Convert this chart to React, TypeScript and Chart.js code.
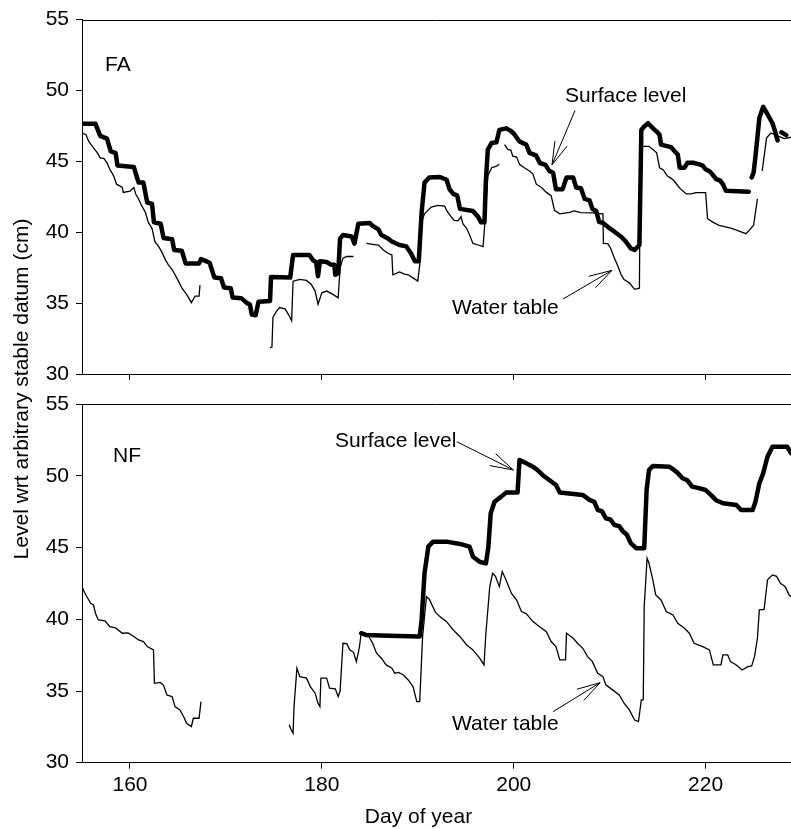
import { useEffect, useRef } from 'react';
import { Chart, registerables } from 'chart.js';

Chart.register(...registerables);

const FONT = "'Liberation Sans', Arial, Helvetica, sans-serif";

// Shared axes
const xTicks = [160, 180, 200, 220];
const yTicks = [30, 35, 40, 45, 50, 55];
const dayRange = [155, 228.9];
const levelRange = [30, 55];

// FA panel – surface level (thick)
const faSurfaceDay = [155.0, 156.4, 156.9, 157.6, 158.0, 158.5, 158.7, 160.4, 160.9, 161.4, 161.8, 162.3, 162.5, 163.2, 163.5, 164.4, 164.6, 165.4, 165.8, 167.2, 167.4, 167.8, 168.3, 168.8, 169.5, 169.8, 170.5, 170.7, 171.6, 172.2, 172.5, 172.7, 173.1, 173.4, 174.6, 174.7, 176.7, 177.0, 178.7, 179.1, 179.4, 179.6, 179.8, 180.5, 181.0, 181.3, 181.4, 181.7, 181.9, 182.2, 183.1, 183.4, 183.8, 185.0, 185.3, 185.9, 186.2, 186.8, 187.3, 188.1, 188.8, 189.3, 189.7, 190.1, 190.4, 190.7, 191.2, 192.3, 193.0, 193.3, 193.7, 194.1, 194.4, 195.75, 196.3, 196.6, 196.95, 197.1, 197.3, 197.7, 198.2, 198.5, 199.2, 199.7, 200.1, 200.6, 201.3, 201.65, 202.35, 202.7, 203.3, 203.7, 204.1, 204.4, 205.1, 205.5, 206.2, 206.5, 207.0, 207.4, 207.9, 208.2, 208.6, 208.9, 209.3, 209.8, 210.5, 211.2, 211.7, 212.2, 212.6, 213.1, 213.3, 213.6, 214.0, 214.5, 214.9, 215.2, 215.35, 216.4, 216.8, 217.1, 217.3, 217.8, 218.1, 218.7, 219.35, 219.7, 220.0, 220.4, 220.7, 221.1, 221.5, 221.8, 222.1, 224.5, 224.65, 224.8, 225.0, 225.2, 225.6, 226.0, 226.4, 226.97, 227.25, 227.5, 227.7, 227.9, 228.4];
const faSurfaceLevel = [47.65, 47.65, 46.8, 46.6, 45.7, 45.6, 44.7, 44.6, 43.5, 43.5, 42.1, 42.0, 40.7, 40.6, 39.6, 39.5, 38.75, 38.7, 37.8, 37.8, 38.1, 38.0, 37.85, 36.8, 36.75, 36.1, 36.05, 35.4, 35.35, 35.0, 34.9, 34.2, 34.15, 35.1, 35.15, 36.85, 36.8, 38.4, 38.4, 38.0, 37.9, 36.9, 37.95, 37.9, 37.7, 37.7, 37.0, 37.1, 39.55, 39.8, 39.7, 39.2, 40.6, 40.65, 40.45, 40.2, 39.8, 39.6, 39.35, 39.1, 39.0, 38.5, 37.95, 37.95, 41.4, 43.5, 43.86, 43.9, 43.7, 43.05, 42.7, 42.6, 41.65, 41.5, 41.07, 40.7, 40.7, 43.7, 45.83, 46.3, 46.35, 47.22, 47.33, 47.15, 46.88, 46.4, 46.18, 45.6, 45.4, 44.9, 44.75, 44.33, 44.2, 43.04, 43.04, 43.86, 43.86, 43.16, 43.1, 42.35, 42.25, 41.65, 41.5, 40.73, 40.65, 40.38, 40.03, 39.68, 39.33, 38.86, 38.75, 39.1, 47.22, 47.46, 47.69, 47.34, 47.1, 46.87, 46.18, 46.0, 45.7, 45.48, 44.55, 44.55, 44.9, 44.9, 44.79, 44.7, 44.44, 44.3, 44.09, 43.74, 43.65, 43.39, 42.93, 42.86, null, 43.86, 44.2, 45.37, 48.04, 48.85, 48.38, 47.69, 47.1, 46.48, null, 47.05, 46.85];

// FA panel – water table (thin)
const faWaterDay = [155.0, 155.4, 155.7, 156.2, 156.6, 156.9, 157.3, 157.6, 157.9, 158.3, 158.6, 159.2, 159.3, 160.0, 160.4, 160.6, 160.9, 161.2, 161.6, 161.9, 162.3, 162.6, 163.0, 163.3, 163.7, 164.0, 164.4, 164.7, 165.05, 165.4, 165.9, 166.4, 166.8, 167.2, 167.3, 170.0, 174.6, 174.8, 174.9, 175.3, 175.6, 176.15, 176.5, 176.85, 177.0, 177.7, 178.4, 178.9, 179.3, 179.6, 180.0, 180.5, 181.2, 181.7, 181.9, 182.2, 182.6, 183.3, 184.0, 184.65, 185.3, 185.9, 186.4, 186.9, 187.3, 187.4, 188.1, 188.6, 189.0, 189.5, 190.0, 190.2, 190.4, 190.7, 191.4, 192.1, 192.8, 193.0, 193.5, 193.8, 194.2, 194.5, 194.7, 195.1, 195.4, 195.75, 196.3, 196.8, 197.0, 197.3, 197.7, 198.2, 198.5, 198.8, 199.05, 199.4, 199.7, 199.9, 200.3, 200.6, 201.1, 201.65, 202.0, 202.35, 202.9, 203.4, 203.9, 204.25, 204.8, 205.8, 206.3, 207.0, 208.2, 209.3, 209.35, 209.8, 210.1, 210.5, 210.8, 211.2, 211.5, 212.05, 212.6, 213.1, 213.2, 214.1, 214.5, 214.9, 215.2, 215.6, 216.0, 216.4, 216.7, 217.1, 217.4, 218.0, 218.5, 219.0, 220.0, 220.2, 220.7, 221.4, 222.1, 222.8, 223.7, 224.2, 224.5, 225.0, 225.4, 225.65, 225.9, 226.35, 226.8, 227.5, 228.2, 228.9];
const faWaterLevel = [46.99, 46.9, 46.4, 45.95, 45.6, 45.25, 45.2, 44.9, 44.44, 43.98, 43.39, 43.16, 42.81, 42.9, 43.16, 42.7, 42.35, 41.89, 41.42, 40.72, 40.26, 39.33, 38.98, 38.63, 38.05, 37.7, 37.36, 37.0, 36.55, 36.08, 35.62, 35.03, 35.5, 35.5, 36.27, null, 31.86, 31.9, 33.99, 34.46, 34.69, 34.6, 34.23, 33.76, 36.55, 36.67, 36.6, 36.32, 35.85, 34.92, 35.73, 35.85, 35.6, 35.38, 37.47, 38.17, 38.3, 38.29, null, 39.21, 39.15, 39.1, 38.75, 38.52, 38.4, 37.0, 37.2, 37.05, 37.0, 36.78, 36.55, 37.7, 40.73, 41.3, 41.77, 41.89, 41.85, 41.54, 41.07, 40.84, 40.8, 41.1, 40.6, 40.26, 39.8, 39.21, 39.1, 38.98, 40.72, 43.98, 44.55, 44.67, 44.8, null, 46.18, 45.83, 45.8, 45.37, 45.3, 44.79, 44.55, 44.32, 44.1, 43.39, 43.16, 42.81, 42.58, 41.54, 41.3, 41.4, 41.5, 41.38, 41.37, 41.3, 39.21, 39.2, 38.87, 38.17, 37.7, 37.0, 36.66, 36.43, 35.97, 36.05, 46.06, 46.06, 45.83, 45.6, 44.55, 44.4, 43.98, 43.8, 43.63, 43.28, 43.04, 42.7, 42.7, 42.8, 42.8, 40.96, 40.73, 40.49, 40.38, 40.26, 40.03, 39.9, 40.1, 40.49, 42.35, null, 44.33, 46.64, 47.0, 46.8, 46.6, 46.7];

// NF panel – surface level (thick)
const nfSurfaceDay = [184.1, 184.65, 187.0, 190.2, 190.4, 190.7, 191.1, 191.6, 193.0, 194.4, 195.4, 195.75, 196.45, 197.1, 197.35, 197.6, 198.0, 198.7, 199.2, 200.4, 200.6, 201.3, 202.0, 202.5, 203.0, 203.7, 204.4, 204.8, 207.2, 207.9, 208.4, 208.75, 209.2, 209.6, 210.1, 210.5, 211.0, 211.4, 211.8, 212.2, 212.75, 213.6, 213.85, 214.1, 214.5, 216.2, 216.7, 217.1, 217.6, 218.1, 218.6, 219.3, 220.0, 220.55, 221.05, 221.8, 223.2, 223.7, 224.9, 225.2, 225.6, 226.0, 226.45, 226.97, 228.5, 228.9];
const nfSurfaceLevel = [39.03, 38.9, 38.86, 38.8, 39.96, 43.21, 45.07, 45.42, 45.42, 45.26, 45.07, 44.37, 44.02, 43.9, 45.0, 47.4, 48.2, 48.56, 48.84, 48.84, 51.12, 50.88, 50.65, 50.4, 50.07, 49.72, 49.37, 48.85, 48.68, 48.33, 48.2, 47.63, 47.55, 47.05, 46.95, 46.58, 46.5, 46.12, 45.9, 45.31, 44.96, 44.96, 49.02, 50.42, 50.7, 50.65, 50.42, 50.2, 49.84, 49.7, 49.26, 49.15, 49.02, 48.68, 48.33, 48.1, 47.98, 47.63, 47.63, 48.21, 49.49, 50.19, 51.35, 52.04, 52.04, 51.6];

// NF panel – water table (thin)
const nfWaterDay = [155.0, 155.3, 155.9, 156.2, 156.4, 156.7, 157.4, 157.9, 158.5, 159.2, 159.8, 160.4, 160.9, 161.4, 161.8, 162.45, 162.55, 163.15, 163.5, 163.85, 164.4, 164.7, 165.2, 165.6, 165.9, 166.4, 166.6, 167.2, 167.4, 172.0, 176.6, 176.8, 177.0, 177.1, 177.4, 177.7, 178.4, 178.8, 179.3, 179.6, 179.8, 179.9, 180.5, 180.8, 181.4, 181.7, 181.9, 182.2, 182.6, 182.9, 183.3, 183.6, 183.9, 184.1, 184.8, 185.3, 185.7, 186.2, 186.7, 187.3, 187.6, 188.0, 188.5, 189.0, 189.5, 189.9, 190.2, 190.5, 190.9, 191.2, 191.8, 192.3, 193.0, 193.7, 194.4, 195.1, 195.75, 196.45, 196.9, 197.1, 197.5, 197.8, 198.1, 198.5, 198.8, 199.2, 199.75, 200.3, 200.8, 201.3, 202.0, 202.7, 203.4, 203.9, 204.4, 204.8, 205.4, 205.5, 206.2, 206.7, 207.2, 207.7, 208.2, 208.75, 209.3, 209.6, 210.3, 211.0, 211.5, 212.05, 212.6, 213.0, 213.3, 213.5, 213.6, 213.9, 214.1, 214.5, 214.8, 215.35, 215.9, 216.6, 217.1, 217.8, 218.3, 218.8, 219.7, 220.4, 220.8, 221.6, 221.8, 222.3, 222.6, 223.2, 223.8, 224.4, 224.8, 225.1, 225.4, 225.6, 226.1, 226.45, 226.97, 227.4, 227.8, 228.3, 228.7, 228.9];
const nfWaterLevel = [42.28, 41.82, 41.12, 41.0, 40.43, 39.96, 39.9, 39.49, 39.4, 39.03, 39.05, 38.8, 38.56, 38.45, 38.1, 37.87, 35.54, 35.6, 35.4, 34.73, 34.6, 33.91, 33.68, 33.21, 32.75, 32.52, 33.1, 33.1, 34.26, null, 32.64, 32.3, 32.06, 33.91, 36.59, 36.0, 35.9, 35.31, 34.85, 34.15, 33.91, 35.9, 35.9, 35.2, 35.15, 34.61, 35.0, 38.33, 38.3, 37.87, 37.7, 37.05, 38.0, 39.03, 38.9, 38.33, 37.64, 37.29, 36.82, 36.59, 36.24, 36.3, 36.12, 35.77, 35.31, 34.26, 34.26, 38.79, 41.58, 41.4, 40.54, 40.19, 39.84, 39.26, 38.79, 38.21, 37.87, 37.29, 36.82, 39.03, 42.28, 43.21, 43.0, 42.28, 43.33, 42.75, 41.82, 41.35, 40.54, 40.4, 39.84, 39.49, 39.14, 38.45, 38.1, 37.17, 37.17, 39.03, 38.68, 38.3, 37.98, 37.4, 37.05, 36.24, 36.0, 35.43, 35.08, 34.73, 34.15, 33.68, 32.98, 32.87, 34.38, 34.38, 40.89, 44.26, 43.91, 42.75, 41.7, 41.35, 40.54, 40.31, 39.73, 39.38, 39.03, 38.33, 38.1, 37.87, 36.82, 36.82, 37.52, 37.52, 37.05, 36.82, 36.47, 36.7, 36.75, 37.4, 38.68, 40.66, 40.7, 42.75, 43.1, 43.0, 42.52, 42.28, 41.7, 41.6];

type Pt = { x: number; y: number | null };
const toPoints = (days: number[], levels: (number | null)[]): Pt[] =>
  days.map((d, i) => ({ x: d, y: levels[i] }));

type Label = { text: string; x: number; y: number };
type Arrow = { from: [number, number]; to: [number, number] };

const faLabels: Label[] = [
  { text: 'FA', x: 157.4, y: 51.38 },
  { text: 'Surface level', x: 205.34, y: 49.22 },
  { text: 'Water table', x: 193.57, y: 34.25 },
];
const faArrows: Arrow[] = [
  { from: [206.39, 48.59], to: [203.99, 44.76] },
  { from: [205.14, 35.29], to: [210.24, 37.31] },
];
const nfLabels: Label[] = [
  { text: 'NF', x: 158.23, y: 50.98 },
  { text: 'Surface level', x: 181.37, y: 52.04 },
  { text: 'Water table', x: 193.57, y: 32.29 },
];
const nfArrows: Arrow[] = [
  { from: [194.06, 52.39], to: [199.96, 50.42] },
  { from: [204.1, 33.56], to: [209.0, 35.58] },
];

const yTitle = 'Level wrt arbitrary stable datum (cm)';
const xTitle = 'Day of year';

function makePlugin(labels: Label[], arrows: Arrow[], extra?: (ctx: CanvasRenderingContext2D) => void) {
  return {
    id: 'panelDecor',
    afterDatasetsDraw(chart: any) {
      const { ctx, chartArea, scales } = chart;
      const sx = scales.x;
      const sy = scales.y;
      ctx.save();
      ctx.strokeStyle = '#000';
      ctx.lineWidth = 1;
      const yTop = Math.round(chartArea.top) + 0.5;
      ctx.beginPath();
      ctx.moveTo(chartArea.left, yTop);
      ctx.lineTo(chartArea.right, yTop);
      ctx.stroke();

      ctx.fillStyle = '#000';
      ctx.font = `21px ${FONT}`;
      ctx.textAlign = 'left';
      ctx.textBaseline = 'alphabetic';
      for (const l of labels) {
        ctx.fillText(l.text, sx.getPixelForValue(l.x), sy.getPixelForValue(l.y));
      }
      ctx.lineWidth = 1;
      for (const a of arrows) {
        const x0 = sx.getPixelForValue(a.from[0]);
        const y0 = sy.getPixelForValue(a.from[1]);
        const x1 = sx.getPixelForValue(a.to[0]);
        const y1 = sy.getPixelForValue(a.to[1]);
        const ang = Math.atan2(y0 - y1, x0 - x1);
        const hl = 24;
        const ha = (16 * Math.PI) / 180;
        ctx.beginPath();
        ctx.moveTo(x0, y0);
        ctx.lineTo(x1, y1);
        ctx.moveTo(x1 + hl * Math.cos(ang + ha), y1 + hl * Math.sin(ang + ha));
        ctx.lineTo(x1, y1);
        ctx.lineTo(x1 + hl * Math.cos(ang - ha), y1 + hl * Math.sin(ang - ha));
        ctx.stroke();
      }
      if (extra) extra(ctx);
      ctx.restore();
    },
  };
}

function makeConfig(isTop: boolean, surface: Pt[], water: Pt[], plugin: any) {
  const tickFont = { family: FONT, size: 21 };
  return {
    type: 'line' as const,
    data: {
      datasets: [
        {
          label: 'Water table',
          data: water,
          borderColor: '#000',
          borderWidth: 1.3,
          pointRadius: 0,
          tension: 0,
          spanGaps: false,
          fill: false,
        },
        {
          label: 'Surface level',
          data: surface,
          borderColor: '#000',
          borderWidth: 4.5,
          borderJoinStyle: 'round' as const,
          borderCapStyle: 'round' as const,
          pointRadius: 0,
          tension: 0,
          spanGaps: false,
          fill: false,
        },
      ],
    },
    options: {
      responsive: false,
      animation: false as const,
      events: [],
      layout: { padding: { top: isTop ? 15 : 404.3, left: 0, right: 0, bottom: 0 } },
      plugins: {
        legend: { display: false },
        tooltip: { enabled: false },
        title: { display: false },
      },
      scales: {
        x: {
          type: 'linear' as const,
          min: dayRange[0],
          max: dayRange[1],
          afterBuildTicks: (axis: any) => {
            axis.ticks = xTicks.map((v) => ({ value: v }));
          },
          afterFit: (axis: any) => {
            axis.height = isTop ? 829 - 374 : 829 - 762.7;
          },
          grid: { drawOnChartArea: false, drawTicks: true, tickLength: 6, tickColor: '#000', tickWidth: 1 },
          border: { display: true, color: '#000', width: 1 },
          ticks: { display: !isTop, color: '#000', font: tickFont, padding: 4, maxRotation: 0, autoSkip: false },
        },
        y: {
          type: 'linear' as const,
          min: levelRange[0],
          max: levelRange[1],
          afterBuildTicks: (axis: any) => {
            axis.ticks = yTicks.map((v) => ({ value: v }));
          },
          afterFit: (axis: any) => {
            axis.width = 82;
          },
          grid: { drawOnChartArea: false, drawTicks: true, tickLength: 6, tickColor: '#000', tickWidth: 1 },
          border: { display: true, color: '#000', width: 1 },
          ticks: { color: '#000', font: tickFont, padding: 7 },
        },
      },
    },
    plugins: [plugin],
  };
}

export default function App() {
  const topRef = useRef<HTMLCanvasElement | null>(null);
  const botRef = useRef<HTMLCanvasElement | null>(null);

  useEffect(() => {
    if (!topRef.current || !botRef.current) return;
    const topPlugin = makePlugin(faLabels, faArrows, (ctx) => {
      ctx.save();
      ctx.font = `21px ${FONT}`;
      ctx.textAlign = 'center';
      ctx.textBaseline = 'alphabetic';
      ctx.translate(28, 389);
      ctx.rotate(-Math.PI / 2);
      ctx.fillText(yTitle, 0, 0);
      ctx.restore();
    });
    const botPlugin = makePlugin(nfLabels, nfArrows, (ctx) => {
      ctx.save();
      ctx.font = `21px ${FONT}`;
      ctx.textAlign = 'center';
      ctx.textBaseline = 'alphabetic';
      ctx.fillText(xTitle, 418.5, 822.5);
      ctx.restore();
    });
    const top = new Chart(
      topRef.current,
      makeConfig(true, toPoints(faSurfaceDay, faSurfaceLevel), toPoints(faWaterDay, faWaterLevel), topPlugin) as any
    );
    const bot = new Chart(
      botRef.current,
      makeConfig(false, toPoints(nfSurfaceDay, nfSurfaceLevel), toPoints(nfWaterDay, nfWaterLevel), botPlugin) as any
    );
    return () => {
      top.destroy();
      bot.destroy();
    };
  }, []);

  const canvasStyle: React.CSSProperties = { position: 'absolute', left: 0, top: 0, width: 791, height: 829 };
  return (
    <div style={{ position: 'absolute', left: 0, top: 0, width: 791, height: 829, background: '#fff', overflow: 'hidden' }}>
      <canvas ref={topRef} width={791} height={829} style={canvasStyle} />
      <canvas ref={botRef} width={791} height={829} style={canvasStyle} />
    </div>
  );
}
